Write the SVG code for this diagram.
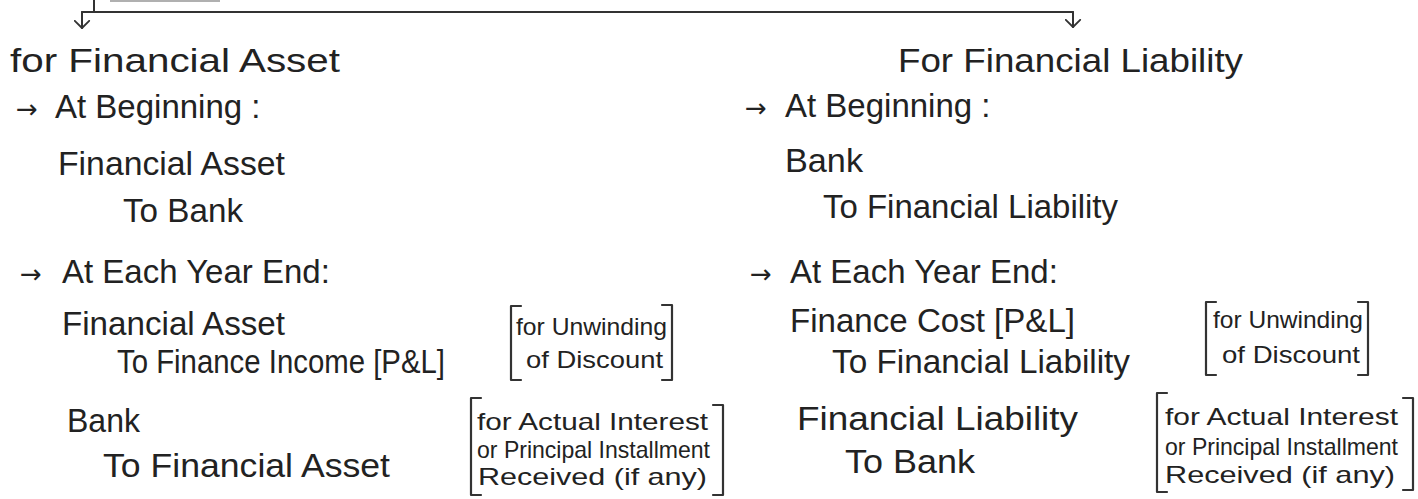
<svg xmlns="http://www.w3.org/2000/svg" width="1418" height="499" viewBox="0 0 1418 499">
<defs>
<style>
.t{font-family:"Liberation Sans",Arial,sans-serif;font-size:33px;fill:#222}
.s{font-family:"Liberation Sans",Arial,sans-serif;font-size:24px;fill:#222}
.ar{font-family:"DejaVu Sans",sans-serif;font-size:26px}
.ln{fill:none;stroke:#333;stroke-width:2;stroke-linecap:round;stroke-linejoin:round}
.br{fill:none;stroke:#333;stroke-width:2.2;stroke-linecap:round;stroke-linejoin:round}
</style>
<marker id="v" viewBox="0 0 10 18" refX="9" refY="9" markerWidth="9" markerHeight="17" markerUnits="userSpaceOnUse" orient="auto">
<path d="M1,1 L9,9 L1,17" fill="none" stroke="#333" stroke-width="2" stroke-linecap="round" stroke-linejoin="round"/>
</marker>
</defs>
<rect width="1418" height="499" fill="#fff"/>

<g id="cut-box">
<rect x="110" y="0" width="110" height="2" fill="#b0b0b0"/>
</g>

<g id="connectors">
<path class="ln" d="M94,0 V12"/>
<path class="ln" d="M82,12 H1073"/>
<path class="ln" d="M82,12 V28" marker-end="url(#v)"/>
<path class="ln" d="M1073,12 V27" marker-end="url(#v)"/>
</g>

<g id="asset">
<text class="t" x="10" y="72" textLength="330" lengthAdjust="spacingAndGlyphs">for Financial Asset</text>
<g id="asset-beginning">
<text class="t" y="118"><tspan class="ar" x="16">→</tspan><tspan x="55">At Beginning :</tspan></text>
<text class="t" x="58" y="175" textLength="227" lengthAdjust="spacingAndGlyphs">Financial Asset</text>
<text class="t" x="123" y="222" textLength="120" lengthAdjust="spacingAndGlyphs">To Bank</text>
</g>
<g id="asset-yearend">
<text class="t" y="283"><tspan class="ar" x="20">→</tspan><tspan x="62">At Each Year End:</tspan></text>
<text class="t" x="62" y="335" textLength="223" lengthAdjust="spacingAndGlyphs">Financial Asset</text>
<text class="t" x="117" y="373" textLength="328" lengthAdjust="spacingAndGlyphs">To Finance Income [P&amp;L]</text>
<text class="t" x="67" y="432" textLength="73" lengthAdjust="spacingAndGlyphs">Bank</text>
<text class="t" x="103" y="477" textLength="287" lengthAdjust="spacingAndGlyphs">To Financial Asset</text>
</g>
<g id="asset-note1">
<path class="br" d="M521,306 H511 V380 H521"/>
<path class="br" d="M662,305 H672 V380 H662"/>
<text class="s" x="516" y="335" textLength="151" lengthAdjust="spacingAndGlyphs">for Unwinding</text>
<text class="s" x="526" y="368" textLength="137" lengthAdjust="spacingAndGlyphs">of Discount</text>
</g>
<g id="asset-note2">
<path class="br" d="M481,398 H471 V495 H481"/>
<path class="br" d="M713,405 H723 V495 H713"/>
<text class="s" x="477" y="430" textLength="231" lengthAdjust="spacingAndGlyphs">for Actual Interest</text>
<text class="s" x="477" y="458" textLength="233" lengthAdjust="spacingAndGlyphs">or Principal Installment</text>
<text class="s" x="478" y="485" textLength="229" lengthAdjust="spacingAndGlyphs">Received (if any)</text>
</g>
</g>

<g id="liability">
<text class="t" x="898" y="72" textLength="345" lengthAdjust="spacingAndGlyphs">For Financial Liability</text>
<g id="liability-beginning">
<text class="t" y="117"><tspan class="ar" x="745">→</tspan><tspan x="785">At Beginning :</tspan></text>
<text class="t" x="785" y="172" textLength="78" lengthAdjust="spacingAndGlyphs">Bank</text>
<text class="t" x="823" y="218" textLength="295" lengthAdjust="spacingAndGlyphs">To Financial Liability</text>
</g>
<g id="liability-yearend">
<text class="t" y="283"><tspan class="ar" x="750">→</tspan><tspan x="790">At Each Year End:</tspan></text>
<text class="t" x="790" y="332" textLength="285" lengthAdjust="spacingAndGlyphs">Finance Cost [P&amp;L]</text>
<text class="t" x="832" y="373" textLength="298" lengthAdjust="spacingAndGlyphs">To Financial Liability</text>
<text class="t" x="797" y="430" textLength="281" lengthAdjust="spacingAndGlyphs">Financial Liability</text>
<text class="t" x="845" y="473" textLength="130" lengthAdjust="spacingAndGlyphs">To Bank</text>
</g>
<g id="liability-note1">
<path class="br" d="M1216,302 H1206 V375 H1216"/>
<path class="br" d="M1358,302 H1368 V375 H1358"/>
<text class="s" x="1213" y="328" textLength="150" lengthAdjust="spacingAndGlyphs">for Unwinding</text>
<text class="s" x="1222" y="363" textLength="138" lengthAdjust="spacingAndGlyphs">of Discount</text>
</g>
<g id="liability-note2">
<path class="br" d="M1167,393 H1157 V492 H1167"/>
<path class="br" d="M1403,398 H1413 V490 H1403"/>
<text class="s" x="1165" y="425" textLength="233" lengthAdjust="spacingAndGlyphs">for Actual Interest</text>
<text class="s" x="1165" y="455" textLength="233" lengthAdjust="spacingAndGlyphs">or Principal Installment</text>
<text class="s" x="1165" y="483" textLength="230" lengthAdjust="spacingAndGlyphs">Received (if any)</text>
</g>
</g>
</svg>
